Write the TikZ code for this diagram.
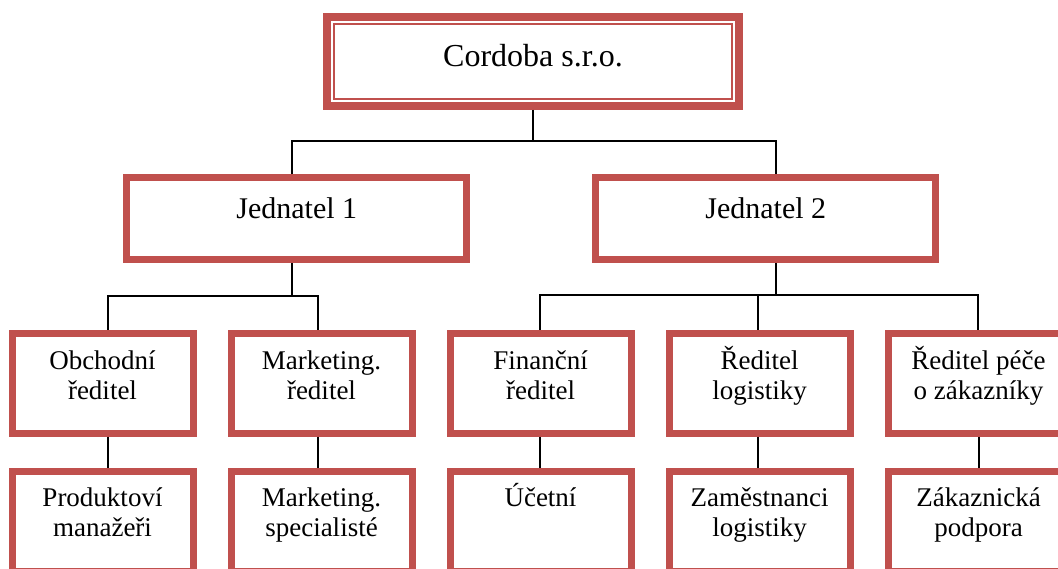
\documentclass[tikz,border=0pt]{standalone}
\usepackage{fontspec}
\setmainfont{Liberation Serif}
\usetikzlibrary{positioning,calc}
\definecolor{boxred}{HTML}{C0504D}
\tikzset{
  box/.style={draw=boxred, line width=7pt, minimum width=181pt, minimum height=100pt, inner sep=0pt},
  boss/.style={box, minimum width=340pt, minimum height=82pt},
  topbox/.style={box, line width=7.5pt, minimum width=412pt, minimum height=89pt},
  conn/.style={line width=2pt, black},
  txt/.style={font=\fontsize{27}{30}\selectfont, align=center, inner sep=0pt, anchor=base},
  twotxt/.style={txt, yshift=-30pt},
  bigtxt/.style={txt, font=\fontsize{30}{34}\selectfont},
}

\begin{document}
\begin{tikzpicture}[x=1pt,y=-1pt]
		\useasboundingbox (0,0) rectangle (1058,568);
		\clip (0,0) rectangle (1058,568);
		% boxes
		\node[topbox] (top) at (533,61.7) {};
		\draw[boxred, line width=2pt] ($(top.north west)+(10.5,10.5)$) rectangle ($(top.south east)+(-10.5,-10.5)$);
		\node[boss] (j1) at (296.8,218.5) {};
		\node[boss,right=122pt of j1] (j2) {};
		\node[box] (ob) at (102.5,383.3) {};
		\node[box,right=31pt of ob] (mk) {};
		\node[box,right=31pt of mk] (fi) {};
		\node[box,right=31pt of fi] (lg) {};
		\node[box,right=31pt of lg] (pc) {};
		\node[box,below=31pt of ob] (pm) {};
		\node[box,below=31pt of mk] (ms) {};
		\node[box,below=31pt of fi] (uc) {};
		\node[box,below=31pt of lg] (zl) {};
		\node[box,below=31pt of pc] (zp) {};
		% texts
		\node[bigtxt, font=\fontsize{32}{36}\selectfont] (top-t) at ([yshift=-52.7pt]top.north) {Cordoba s.r.o.};
		\node[bigtxt] (j1-t) at ([yshift=-44pt]j1.north) {Jednatel 1};
		\node[bigtxt] (j2-t) at ([yshift=-44pt]j2.north) {Jednatel 2};
		\node[twotxt] (ob-t) at ([yshift=-40pt]ob.north) {Obchodní\\ředitel};
		\node[twotxt] (mk-t) at ([yshift=-40pt]mk.north) {Marketing.\\ředitel};
		\node[twotxt] (fi-t) at ([yshift=-40pt]fi.north) {Finanční\\ředitel};
		\node[twotxt] (lg-t) at ([yshift=-40pt]lg.north) {Ředitel\\logistiky};
		\node[twotxt] (pc-t) at ([yshift=-40pt]pc.north) {Ředitel péče\\o zákazníky};
		\node[twotxt] (pm-t) at ([yshift=-38.5pt]pm.north) {Produktoví\\manažeři};
		\node[twotxt] (ms-t) at ([yshift=-38.5pt]ms.north) {Marketing.\\specialisté};
		\node[txt] (uc-t) at ([yshift=-38.5pt]uc.north) {Účetní};
		\node[twotxt] (zl-t) at ([yshift=-38.5pt]zl.north) {Zaměstnanci\\logistiky};
		\node[twotxt] (zp-t) at ([yshift=-38.5pt]zp.north) {Zákaznická\\podpora};
		% connectors
		\coordinate (bus0) at (534,140.5);
		\coordinate (bus1) at (292,295.5);
		\coordinate (bus2) at (776,295);
		\draw[conn] (top.south) -- (top.south |- bus0);
		\draw[conn] ([xshift=-4.8pt]j1.north) |- (bus0) -| ([xshift=10.2pt]j2.north);
		\draw[conn] ([xshift=-4.8pt]j1.south) -- (bus1);
		\draw[conn] ([xshift=5.5pt]ob.north) |- (bus1) -| ([xshift=-3.5pt]mk.north);
		\draw[conn] ([xshift=10.2pt]j2.south) -- (bus2);
		\draw[conn] ([xshift=-1pt]fi.north) |- (bus2) -| ([xshift=-1pt]pc.north);
		\draw[conn] ([xshift=-2pt]lg.north) -- ([xshift=-2pt]lg.north |- bus2);
		\foreach \a/\b/\s in {ob/pm/5.5, mk/ms/-3.5, fi/uc/-1, lg/zl/-2, pc/zp/0}
			\draw[conn] ([xshift=\s pt]\a.south) -- ([xshift=\s pt]\b.north);
\end{tikzpicture}
\end{document}
